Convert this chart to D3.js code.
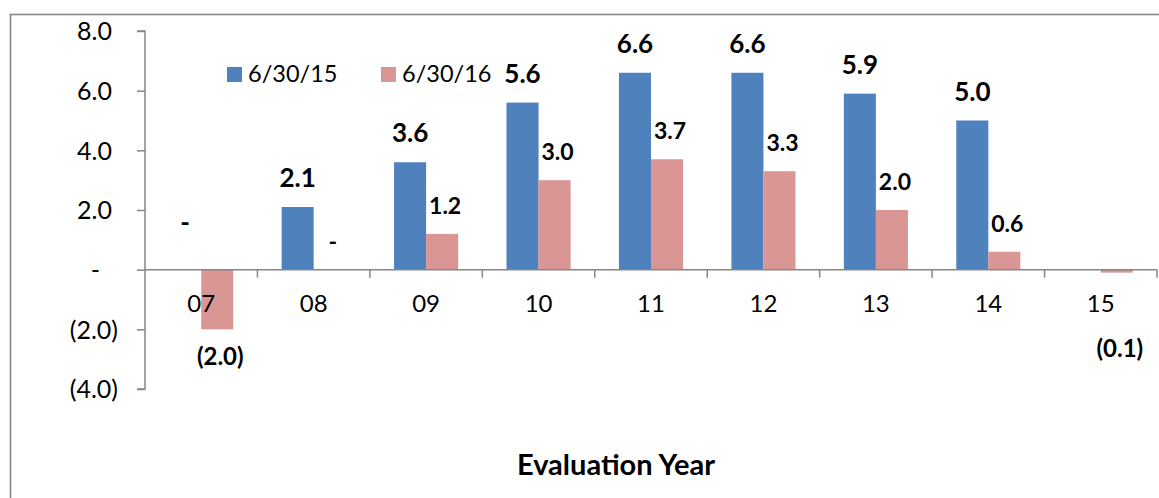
<!DOCTYPE html>
<html>
<head>
<meta charset="utf-8">
<script src="https://cdn.jsdelivr.net/npm/d3@7"></script>
<style>
  html, body { margin: 0; padding: 0; background: #fff; }
  svg { display: block; font-family: Lato, "Open Sans", sans-serif; }
</style>
</head>
<body>
<svg id="chart" width="1159" height="498"></svg>
<script>
// Evaluation years and the two valuation series
const years = ["07", "08", "09", "10", "11", "12", "13", "14", "15"];
const series = ["6/30/15", "6/30/16"];
const values2015 = [0, 2.1, 3.6, 5.6, 6.6, 6.6, 5.9, 5.0, null];
const values2016 = [-2.0, 0, 1.2, 3.0, 3.7, 3.3, 2.0, 0.6, -0.1];
const yTicks = [8, 6, 4, 2, 0, -2, -4];

const colors = ["#4F81BD", "#D99694"];
const axisColor = "#868686";

const svg = d3.select("#chart");

// outer chart frame
svg.append("rect")
  .attr("x", 10.5).attr("y", 14.5)
  .attr("width", 1200).attr("height", 600)
  .attr("fill", "none").attr("stroke", axisColor).attr("stroke-width", 1.6);

const plot = { left: 145, right: 1157, top: 31, bottom: 389 };

const x = d3.scaleBand().domain(years).range([plot.left, plot.right]).paddingInner(0).paddingOuter(0);
const y = d3.scaleLinear().domain([-4, 8]).range([plot.bottom, plot.top]);
const barW = x.bandwidth() * 0.285;
const groupOffset = (x.bandwidth() - 2 * barW) / 2;

// Accounting-style number format: (2.0) for negatives, "-" for zero
function acct(v) {
  if (v === 0) return "-";
  const s = Math.abs(v).toFixed(1);
  return v < 0 ? "(" + s + ")" : s;
}

// Y axis
const yAxis = d3.axisLeft(y).tickValues(yTicks).tickSize(8).tickFormat(acct);
const gy = svg.append("g").attr("transform", `translate(${plot.left},0)`).call(yAxis);
gy.select(".domain").attr("stroke", axisColor).attr("stroke-width", 1.5)
  .attr("d", `M-8,${y(8)}H0V${y(-4)}H-8`);
gy.selectAll(".tick line").attr("stroke", axisColor).attr("stroke-width", 1.5);
gy.selectAll(".tick text")
  .attr("font-size", 25).attr("fill", "#000")
  .attr("font-family", "Lato, sans-serif")
  .attr("x", d => d > 0 ? -33 : (d === 0 ? -45 : -27))
  .attr("dy", "0.35em");

// Bars
const seriesData = [values2015, values2016];
seriesData.forEach((vals, si) => {
  const g = svg.append("g");
  const pts = years.map((yr, i) => ({ yr, v: vals[i] })).filter(d => d.v !== null);
  g.selectAll("rect").data(pts.filter(d => d.v !== 0)).join("rect")
    .attr("x", d => x(d.yr) + groupOffset + si * barW)
    .attr("width", barW)
    .attr("y", d => y(Math.max(0, d.v)))
    .attr("height", d => Math.abs(y(d.v) - y(0)))
    .attr("fill", colors[si]);

  // value labels
  g.selectAll("text").data(pts).join("text")
    .attr("text-anchor", "middle")
    .attr("font-weight", "bold")
    .attr("font-size", d => d.v < 0 ? 24 : (si === 0 ? 26 : 23))
    .attr("x", d => x(d.yr) + groupOffset + si * barW + barW / 2 + (si === 1 ? 3 : 0))
    .attr("y", d => {
      if (d.v < 0) return Math.max(y(d.v) + 36, y(0) + 87);
      if (d.v === 0 && si === 0) return y(0) - 38;
      return y(d.v) - 20;
    })
    .text(d => acct(d.v));
});

// X axis along zero
const gx = svg.append("g");
gx.append("line")
  .attr("x1", plot.left).attr("x2", plot.right)
  .attr("y1", y(0)).attr("y2", y(0))
  .attr("stroke", axisColor).attr("stroke-width", 1.5);
gx.selectAll("line.tick").data(years).join("line")
  .attr("class", "tick")
  .attr("x1", d => x(d) + x.bandwidth()).attr("x2", d => x(d) + x.bandwidth())
  .attr("y1", y(0)).attr("y2", y(0) + 8)
  .attr("stroke", axisColor).attr("stroke-width", 1.5);
gx.selectAll("text").data(years).join("text")
  .attr("x", d => x(d) + x.bandwidth() / 2)
  .attr("y", y(0) + 42)
  .attr("text-anchor", "middle")
  .attr("font-size", 24)
  .text(d => d);

// Legend
const legend = svg.append("g");
const legendX = [227, 381];
series.forEach((name, i) => {
  legend.append("rect")
    .attr("x", legendX[i]).attr("y", 67).attr("width", 15).attr("height", 15)
    .attr("fill", colors[i]);
  legend.append("text")
    .attr("x", legendX[i] + 21).attr("y", 82)
    .attr("font-size", 23.5)
    .text(name);
});

// Axis title
svg.append("text")
  .attr("x", 616).attr("y", 475)
  .attr("text-anchor", "middle")
  .attr("font-weight", "bold")
  .attr("font-size", 29)
  .text("Evaluation Year");
</script>
</body>
</html>
